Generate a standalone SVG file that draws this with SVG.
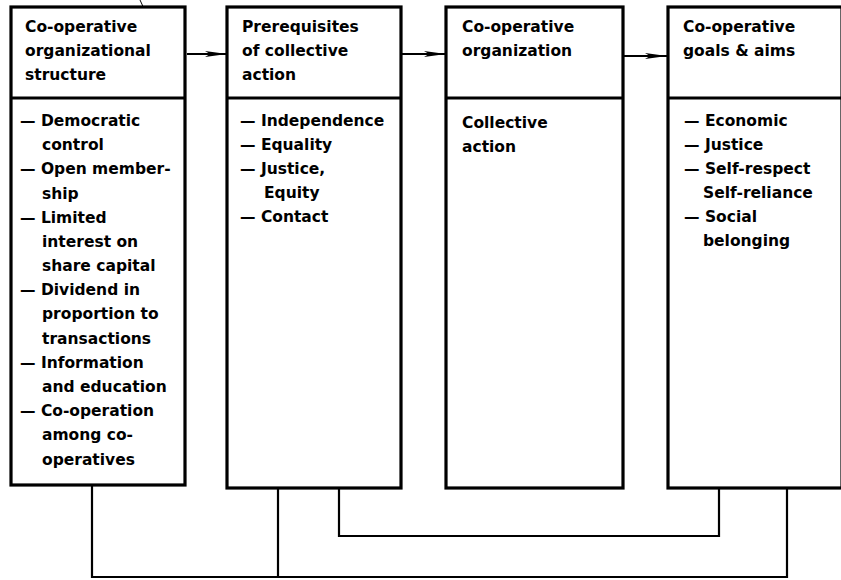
<svg xmlns="http://www.w3.org/2000/svg" width="841" height="580" viewBox="0 0 841 580">
<defs>
<style>
.box{fill:#fff;stroke:#000;stroke-width:3.2}
.div{stroke:#000;stroke-width:3.2}
.t{font-family:"DejaVu Sans",sans-serif;font-weight:bold;font-size:15.5px;fill:#000}
.c{fill:none;stroke:#000;stroke-width:2.2}
</style>
<marker id="ah" markerUnits="userSpaceOnUse" viewBox="0 0 22 7" refX="22" refY="3.5" markerWidth="22" markerHeight="7" orient="auto">
<path d="M0,0.5 L22,3.5 L0,6.5 L5,3.5 Z" fill="#000"/>
</marker>
</defs>
<rect width="841" height="580" fill="#fff"/>

<g id="connectors">
<line class="c" x1="187" y1="54" x2="227" y2="54" marker-end="url(#ah)"/>
<line class="c" x1="402" y1="54" x2="446" y2="54" marker-end="url(#ah)"/>
<line class="c" x1="624" y1="56" x2="667" y2="56" marker-end="url(#ah)"/>
<polyline class="c" points="92,485 92,577 787,577 787,489"/>
<line class="c" x1="278" y1="489" x2="278" y2="577"/>
<polyline class="c" points="339,489 339,536 719,536 719,489"/>
<line x1="140" y1="0" x2="146" y2="13" stroke="#000" stroke-width="1"/>
</g>

<g id="node-structure">
<rect class="box" x="11" y="7" width="174" height="478"/>
<line class="div" x1="11" y1="98" x2="185" y2="98"/>
<text class="t" x="25" y="32">Co-operative</text>
<text class="t" x="25" y="56">organizational</text>
<text class="t" x="25" y="80">structure</text>
<text class="t" x="20" y="126">— Democratic</text>
<text class="t" x="42" y="150">control</text>
<text class="t" x="20" y="174">— Open member-</text>
<text class="t" x="42" y="199">ship</text>
<text class="t" x="20" y="223">— Limited</text>
<text class="t" x="42" y="247">interest on</text>
<text class="t" x="42" y="271">share capital</text>
<text class="t" x="20" y="295">— Dividend in</text>
<text class="t" x="42" y="319">proportion to</text>
<text class="t" x="42" y="344">transactions</text>
<text class="t" x="20" y="368">— Information</text>
<text class="t" x="42" y="392">and education</text>
<text class="t" x="20" y="416">— Co-operation</text>
<text class="t" x="42" y="440">among co-</text>
<text class="t" x="42" y="465">operatives</text>
</g>

<g id="node-prerequisites">
<rect class="box" x="227" y="7" width="174" height="481"/>
<line class="div" x1="227" y1="98" x2="401" y2="98"/>
<text class="t" x="242" y="32">Prerequisites</text>
<text class="t" x="242" y="56">of collective</text>
<text class="t" x="242" y="80">action</text>
<text class="t" x="240" y="126">— Independence</text>
<text class="t" x="240" y="150">— Equality</text>
<text class="t" x="240" y="174">— Justice,</text>
<text class="t" x="264" y="198">Equity</text>
<text class="t" x="240" y="222">— Contact</text>
</g>

<g id="node-organization">
<rect class="box" x="446" y="7" width="177" height="481"/>
<line class="div" x1="446" y1="98" x2="623" y2="98"/>
<text class="t" x="462" y="32">Co-operative</text>
<text class="t" x="462" y="56">organization</text>
<text class="t" x="462" y="128">Collective</text>
<text class="t" x="462" y="152">action</text>
</g>

<g id="node-goals">
<rect class="box" x="668" y="7" width="174" height="481"/>
<line class="div" x1="668" y1="98" x2="841" y2="98"/>
<text class="t" x="683" y="32">Co-operative</text>
<text class="t" x="683" y="56">goals &amp; aims</text>
<text class="t" x="684" y="126">— Economic</text>
<text class="t" x="684" y="150">— Justice</text>
<text class="t" x="684" y="174">— Self-respect</text>
<text class="t" x="703" y="198">Self-reliance</text>
<text class="t" x="684" y="222">— Social</text>
<text class="t" x="703" y="246">belonging</text>
</g>
</svg>
